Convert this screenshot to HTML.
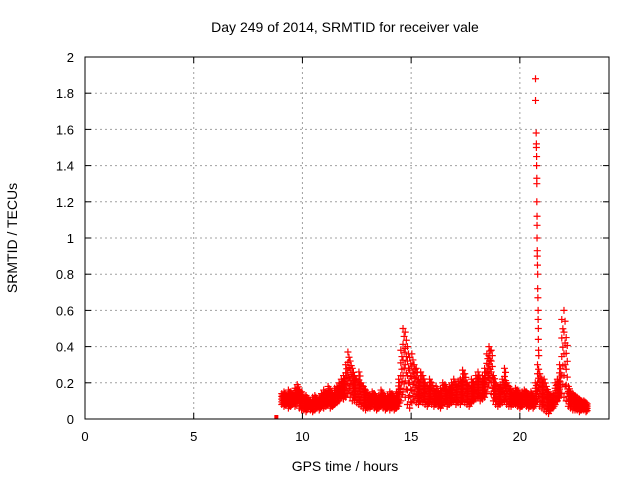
<!DOCTYPE html>
<html><head><meta charset="utf-8"><style>body{margin:0;background:#fff}svg{display:block;font-family:"Liberation Sans",sans-serif}</style></head>
<body>
<svg id="chart" width="640" height="480" xmlns="http://www.w3.org/2000/svg">
<rect width="640" height="480" fill="#fff"/>
<text x="345" y="32" font-size="14" text-anchor="middle">Day 249 of 2014, SRMTID for receiver vale</text>
<text transform="translate(17,238) rotate(-90)" font-size="14" text-anchor="middle">SRMTID / TECUs</text>
<text x="345" y="471" font-size="14" text-anchor="middle">GPS time / hours</text>
<g id="grid"></g><g id="marks"></g>
<rect x="85" y="57" width="524" height="362" fill="none" stroke="#000" stroke-width="1"/>
<g id="ticks"></g>
</svg>
<script>
const xTicks=[0,5,10,15,20];
const yTicks=[0,0.2,0.4,0.6,0.8,1,1.2,1.4,1.6,1.8,2];
const yTickLabels=["0","0.2","0.4","0.6","0.8","1","1.2","1.4","1.6","1.8","2"];
const tStart=9.05, tStep=0.1014;
const hiVals=[.14,.15,.13,.16,.15,.14,.17,.19,.16,.15,
.12,.13,.11,.10,.12,.13,.11,.12,.14,.16,
.15,.18,.16,.14,.17,.18,.20,.22,.24,.30,
.37,.32,.28,.24,.22,.26,.20,.18,.16,.14,
.13,.15,.14,.12,.13,.16,.14,.12,.13,.15,
.14,.12,.15,.22,.38,.50,.48,.40,.34,.36,
.30,.28,.22,.26,.24,.20,.18,.22,.20,.16,
.18,.15,.17,.20,.19,.16,.18,.20,.22,.19,
.21,.22,.27,.25,.20,.18,.22,.20,.24,.26,
.22,.24,.28,.36,.40,.38,.24,.20,.18,.19,
.22,.28,.20,.18,.16,.15,.17,.16,.14,.15,
.16,.15,.14,.15,.13,.20,.30,.25,.22,.22,
.18,.15,.13,.14,.20,.22,.30,.55,.60,.45,
.18,.15,.14,.13,.12,.11,.10,.10,.09];
const loVals=[.08,.07,.08,.06,.07,.08,.07,.09,.06,.05,
.05,.04,.06,.05,.04,.05,.06,.05,.07,.06,
.07,.08,.06,.07,.08,.09,.10,.12,.11,.12,
.14,.12,.10,.10,.09,.08,.07,.06,.05,.06,
.06,.07,.06,.05,.06,.07,.06,.05,.06,.05,
.06,.05,.06,.07,.10,.15,.12,.08,.06,.09,
.10,.09,.08,.10,.09,.08,.07,.09,.08,.07,
.08,.07,.06,.08,.09,.07,.08,.09,.10,.08,
.09,.08,.10,.09,.08,.07,.09,.10,.11,.12,
.10,.11,.12,.15,.20,.14,.10,.08,.07,.08,
.09,.10,.08,.07,.07,.08,.08,.07,.06,.07,
.08,.07,.06,.07,.06,.08,.10,.07,.06,.05,
.04,.03,.05,.06,.08,.10,.12,.14,.12,.10,
.07,.06,.05,.05,.05,.04,.05,.05,.04];
const spikeTimes=[20.72,20.72,20.75,20.76,20.76,20.77,20.77,20.78,20.78,20.78,20.79,20.79,20.79,20.8,20.8,20.81,20.82,20.82,20.83,20.84,20.84,20.85,20.85,20.86,20.87];
const spikeVals=[1.88,1.76,1.58,1.52,1.50,1.45,1.40,1.33,1.30,1.20,1.12,1.07,1.00,0.93,0.90,0.85,0.80,0.72,0.67,0.60,0.55,0.50,0.44,0.38,0.35];
const X=t=>85+t*(524/24.1), Y=v=>419-v*181;
const NS="http://www.w3.org/2000/svg";
const grid=document.getElementById('grid'),ticks=document.getElementById('ticks'),marks=document.getElementById('marks');
function mk(tag,at,par){const e=document.createElementNS(NS,tag);for(const k in at)e.setAttribute(k,at[k]);par.appendChild(e);return e;}
xTicks.forEach(t=>{const x=X(t);
 if(t>0){const g=mk('line',{x1:x,x2:x,y1:57,y2:419,stroke:'#a0a0a0','stroke-dasharray':'2,3'},grid);
 
 }
 mk('line',{x1:x,x2:x,y1:419,y2:413,stroke:'#000'},ticks);mk('line',{x1:x,x2:x,y1:57,y2:63,stroke:'#000'},ticks);
 const l=mk('text',{x:x,y:441,'font-size':13,'text-anchor':'middle'},ticks);l.textContent=t;
 
 });
yTicks.forEach((v,i)=>{const y=Y(v);
 if(i>0&&i<yTicks.length-1){const g=mk('line',{x1:85,x2:609,y1:y,y2:y,stroke:'#a0a0a0','stroke-dasharray':'2,3'},grid);
 
 }
 mk('line',{x1:85,x2:91,y1:y,y2:y,stroke:'#000'},ticks);mk('line',{x1:609,x2:603,y1:y,y2:y,stroke:'#000'},ticks);
 const l=mk('text',{x:74,y:y+5,'font-size':13,'text-anchor':'end'},ticks);l.textContent=yTickLabels[i];
 
 });
function cross(t,v){const x=X(t),y=Y(v);
 const p=mk('path',{d:`M${x-3.5} ${y}h7M${x} ${y-3.5}v7`,stroke:'#f00','stroke-width':1.2},marks);
 
 }
hiVals.forEach((h,i)=>{const lo=loVals[i],t=tStart+i*tStep;
 for(let k=0;k<=4;k++)cross(t,lo+(h-lo)*k/4);
 for(let k=0;k<4;k++)cross(t+0.05,lo+(h-lo)*(k+0.5)/4);});
spikeTimes.forEach((t,i)=>cross(t,spikeVals[i]));
const sq=mk('rect',{x:X(8.8)-2,y:Y(0)-4,width:4,height:4,fill:'#f00'},marks);


</script>
</body></html>
